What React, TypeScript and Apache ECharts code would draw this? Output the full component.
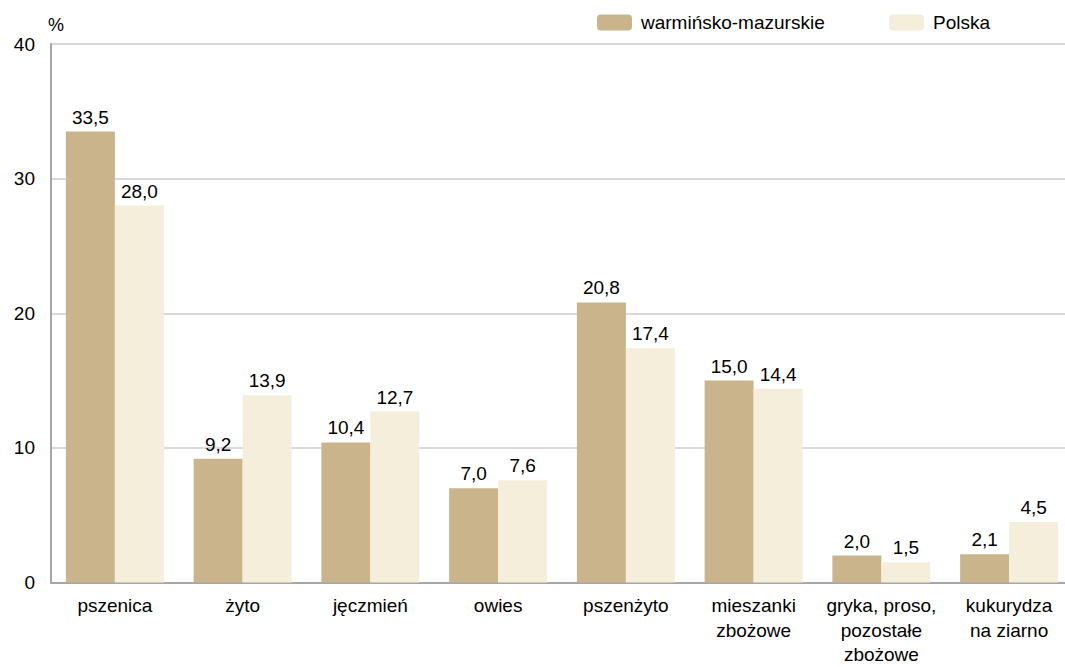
import React, { useEffect, useRef } from "react";
import * as echarts from "echarts";

const categories = [
  "pszenica",
  "żyto",
  "jęczmień",
  "owies",
  "pszenżyto",
  "mieszanki\nzbożowe",
  "gryka, proso,\npozostałe\nzbożowe",
  "kukurydza\nna ziarno",
];
const warminskoMazurskie = [33.5, 9.2, 10.4, 7.0, 20.8, 15.0, 2.0, 2.1];
const polska = [28.0, 13.9, 12.7, 7.6, 17.4, 14.4, 1.5, 4.5];
const seriesNames = ["warmińsko-mazurskie", "Polska"];

const FONT = "'Liberation Sans', Arial, sans-serif";
const FS = 19;
const fmt = (p: any) => Number(p.value).toFixed(1).replace(".", ",");

export default function App() {
  const ref = useRef<HTMLDivElement>(null);
  useEffect(() => {
    if (!ref.current) return;
    const chart = echarts.init(ref.current, undefined, { renderer: "svg" });
    const legendCommon = {
      itemWidth: 35,
      itemHeight: 16,
      padding: 0,
      textStyle: { fontSize: FS, color: "#000", fontFamily: FONT, padding: [0, 0, 0, 4] },
    };
    chart.setOption({
      animation: false,
      textStyle: { fontFamily: FONT },
      legend: [
        { ...legendCommon, data: [seriesNames[0]], left: 597, top: 13 },
        { ...legendCommon, data: [seriesNames[1]], left: 889, top: 13 },
      ],
      grid: { left: 51, right: 0, top: 44, bottom: 83, containLabel: false },
      xAxis: {
        type: "category",
        data: categories,
        axisLine: { lineStyle: { color: "#a6a6a6", width: 2 } },
        axisTick: { show: false },
        axisLabel: {
          fontSize: FS,
          lineHeight: 24.5,
          color: "#000",
          margin: 11,
          interval: 0,
          fontFamily: FONT,
        },
      },
      yAxis: {
        type: "value",
        min: 0,
        max: 40,
        interval: 10,
        name: "%",
        nameLocation: "end",
        nameGap: 10,
        nameTextStyle: { fontSize: 18, color: "#000", fontFamily: FONT, align: "left", padding: [0, 0, 0, -3] },
        axisLine: { show: true, lineStyle: { color: "#a6a6a6", width: 2 } },
        axisTick: { show: false },
        splitLine: { lineStyle: { color: "#d9d9d9", width: 2 } },
        axisLabel: { fontSize: FS, color: "#000", margin: 16, fontFamily: FONT },
      },
      series: [
        {
          name: seriesNames[0],
          type: "bar",
          data: warminskoMazurskie,
          barWidth: 49,
          barGap: "0%",
          itemStyle: { color: "#c9b48c" },
          label: {
            show: true,
            position: "top",
            distance: 5,
            formatter: fmt,
            fontSize: FS,
            color: "#000",
            fontFamily: FONT,
          },
        },
        {
          name: seriesNames[1],
          type: "bar",
          data: polska,
          barWidth: 49,
          barGap: "0%",
          itemStyle: { color: "#f5eedb" },
          label: {
            show: true,
            position: "top",
            distance: 5,
            formatter: fmt,
            fontSize: FS,
            color: "#000",
            fontFamily: FONT,
          },
        },
      ],
    });
    return () => chart.dispose();
  }, []);
  return (
    <div
      style={{
        position: "absolute",
        left: 0,
        top: 0,
        width: 1065,
        height: 667,
        overflow: "hidden",
        background: "#fff",
      }}
    >
      <div ref={ref} style={{ width: 1073, height: 667 }} />
    </div>
  );
}
